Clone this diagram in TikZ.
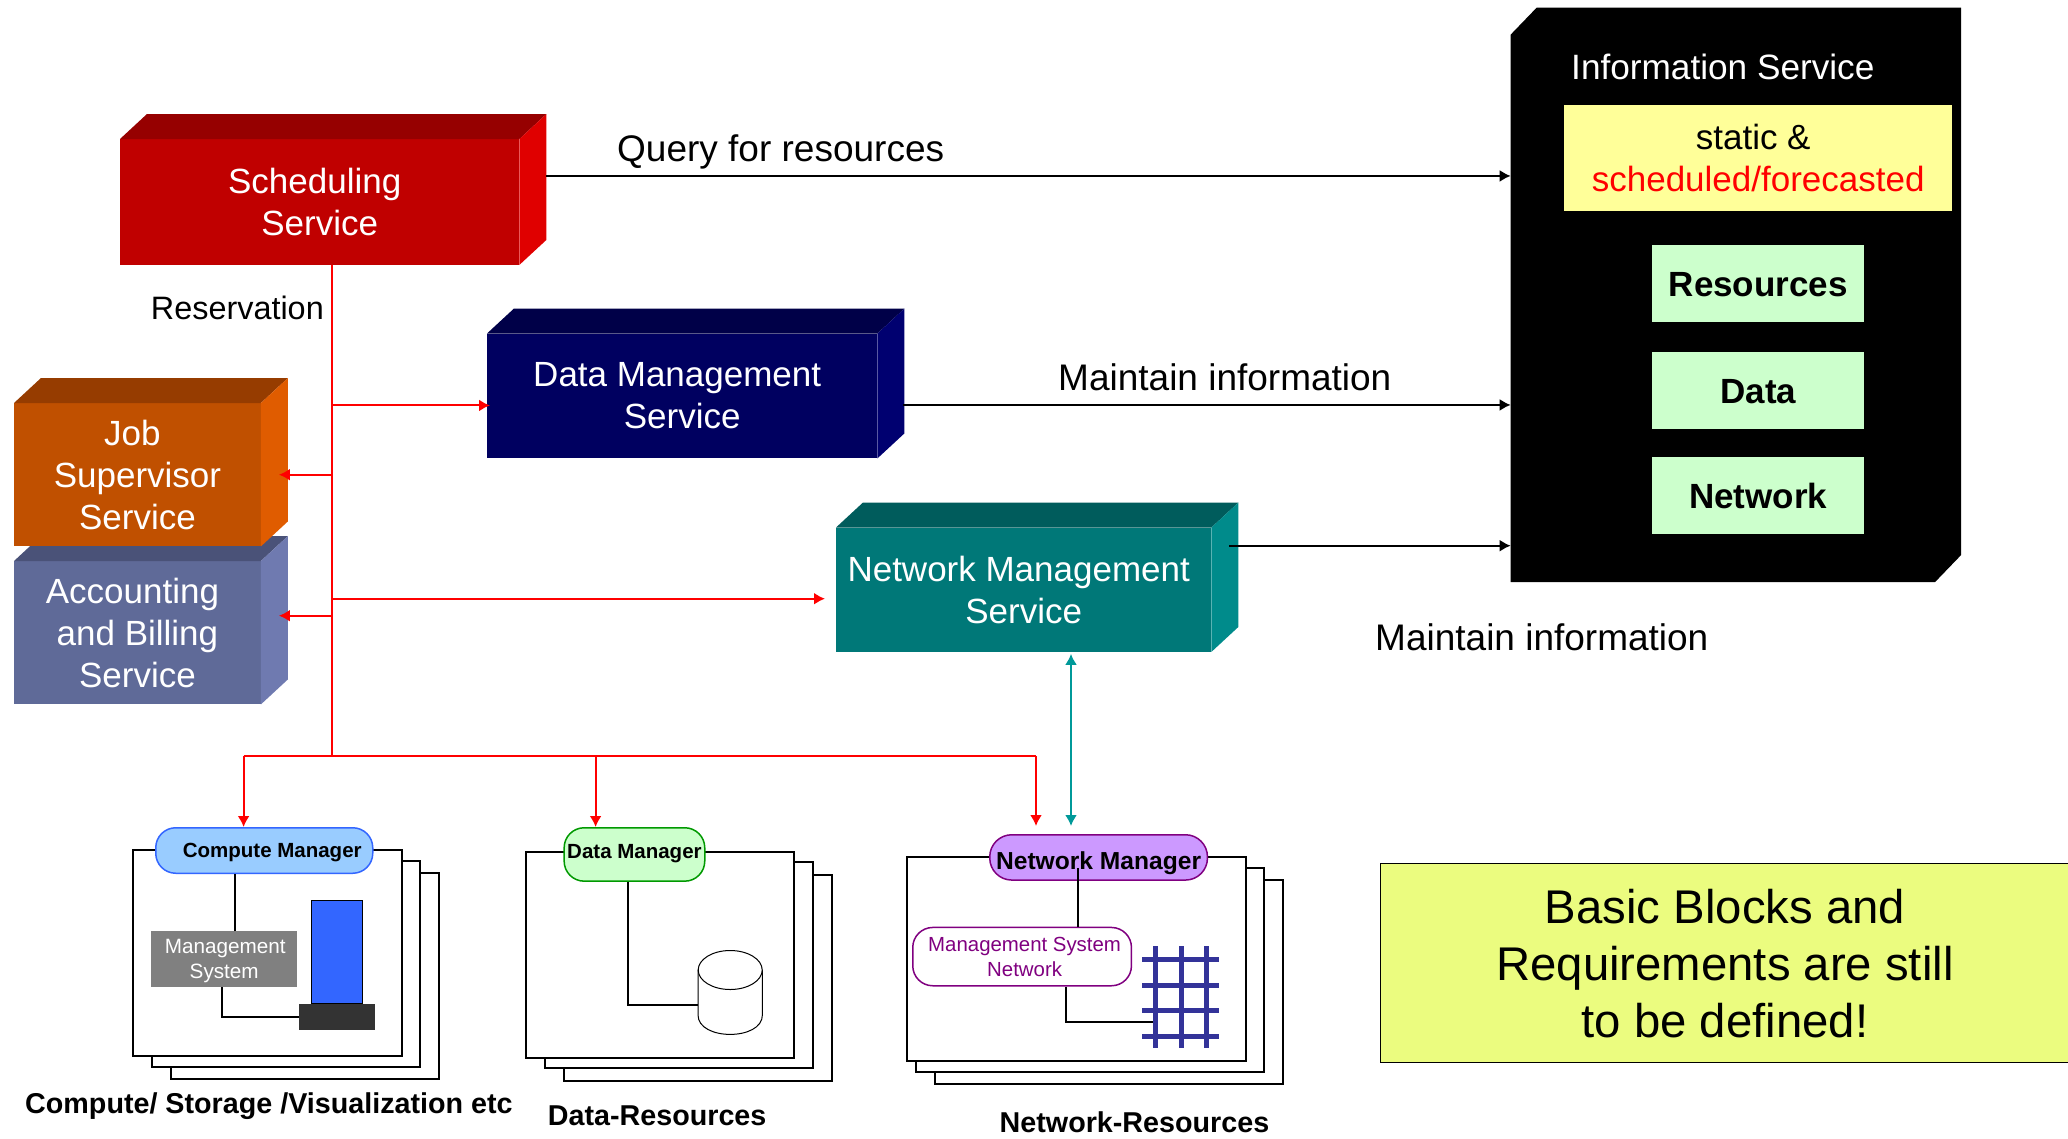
\documentclass[tikz,border=0pt]{standalone}
\usepackage{fontspec}
\setmainfont{Liberation Sans}
\usetikzlibrary{arrows.meta,positioning,calc}
\usetikzlibrary{shapes.geometric}
\definecolor{schedfront}{HTML}{C00000}
\definecolor{schedtop}{HTML}{960000}
\definecolor{schedside}{HTML}{E00000}
\definecolor{datafront}{HTML}{000060}
\definecolor{datatop}{HTML}{000048}
\definecolor{dataside}{HTML}{000070}
\definecolor{jobfront}{HTML}{C05000}
\definecolor{jobtop}{HTML}{963C00}
\definecolor{jobside}{HTML}{E05C00}
\definecolor{acctfront}{HTML}{5F6A98}
\definecolor{accttop}{HTML}{4A5278}
\definecolor{acctside}{HTML}{6F7AB0}
\definecolor{netfront}{HTML}{007878}
\definecolor{nettop}{HTML}{005C5C}
\definecolor{netside}{HTML}{008B8B}
\definecolor{teal}{HTML}{009999}
\definecolor{palegreen}{HTML}{CCFFCC}
\definecolor{paleyellow}{HTML}{FFFF99}
\definecolor{noteyellow}{HTML}{EBFC7F}
\definecolor{compfill}{HTML}{99CCFF}
\definecolor{compblue}{HTML}{3366FF}
\definecolor{netfill}{HTML}{CC99FF}
\definecolor{netpurple}{HTML}{800080}
\definecolor{gridblue}{HTML}{333399}
% top and side face of a block
\newcommand{\sidefaces}[3]{
  \fill[#2] (#1.north west) -- ++(27,-25) -- ++($(#1.north east)-(#1.north west)$) -- (#1.north east) -- cycle;
  \fill[#3] (#1.north east) -- ++(27,-25) -- ++($(#1.south east)-(#1.north east)$) -- (#1.south east) -- cycle;
}
\newcommand{\gap}{\hspace*{10pt}}
\tikzset{
block/.style={
  rectangle, align=center, text=white, inner sep=0pt, text depth=-6pt,
  font=\fontsize{35}{42}\selectfont
  },
green/.style={
  rectangle, fill=palegreen, inner sep=0pt, text=black,
  minimum width=212pt, minimum height=77pt, text height=26pt, text depth=0pt,
  font=\fontsize{35}{42}\selectfont\bfseries
  },
label/.style={
  inner sep=0pt, font=\fontsize{37}{42}\selectfont
  },
caption/.style={
  inner sep=0pt, font=\fontsize{28.7}{34}\selectfont\bfseries
  },
page/.style={
  draw=black, fill=white, line width=2pt, rectangle, inner sep=0pt
  },
manager/.style={
  rectangle, rounded corners=#1, inner sep=0pt, line width=1.5pt,
  font=\fontsize{20.5}{25}\selectfont\bfseries
  },
wire/.style={draw=black, line width=2pt},
redline/.style={draw=red, line width=2pt},
gridline/.style={draw=gridblue, line width=5pt}
}

\begin{document}
\begin{tikzpicture}[x=1pt,y=-1pt,>={Latex[length=11pt,width=12pt]}]
\useasboundingbox (0,0) rectangle (2068,1138);

% services

\node[block,fill=schedfront,minimum width=399pt,minimum height=125.5pt,anchor=north west]
at (120,139) (sched) {Scheduling\gap\\Service};
\sidefaces{sched}{schedtop}{schedside}

\node[block,fill=datafront,minimum width=390pt,minimum height=124.5pt,anchor=north west]
at (487,333.5) (dms) {Data Management\gap\\Service};
\sidefaces{dms}{datatop}{dataside}

\node[block,fill=acctfront,minimum width=246.5pt,minimum height=143pt,anchor=north west]
at (14,561) (acct) {Accounting\gap\\and Billing\gap\\Service};
\sidefaces{acct}{accttop}{acctside}

\node[block,fill=jobfront,minimum width=246.5pt,minimum height=143pt,anchor=north west]
at (14,403) (job) {Job\gap\\Supervisor\\Service};
\sidefaces{job}{jobtop}{jobside}

\node[block,fill=netfront,minimum width=375pt,minimum height=124pt,anchor=north west]
at (836,527.5) (nms) {Network Management\gap\\Service};
\sidefaces{nms}{nettop}{netside}

% information service

\node[rectangle,inner sep=0pt,minimum width=450pt,minimum height=574pt,anchor=north west]
at (1510.7,7.6) (info) {};
\fill[black] ([yshift=-27pt]info.north west) -- ([xshift=26pt]info.north west)
  -- (info.north east) -- ([yshift=27pt]info.south east)
  -- ([xshift=-26pt]info.south east) -- (info.south west) -- cycle;
\node[label,text=white,font=\fontsize{35.2}{42}\selectfont,anchor=west] at (1571,67) (infotitle) {Information Service};
\node[rectangle,fill=paleyellow,align=center,inner sep=0pt,minimum width=388pt,minimum height=105.5pt,
  font=\fontsize{35}{42}\selectfont,text depth=-3pt,anchor=north west]
at (1564,105) (forecast) {static \&\gap\\\textcolor{red}{scheduled/forecasted}};
\node[green,anchor=north west] at (1652,245) (res) {Resources};
\node[green,below=29pt of res] (dat) {Data};
\node[green,below=28pt of dat] (net) {Network};

% arrows to information service

\node[label,anchor=west] at (617,152) (query) {Query for resources};
\node[label,anchor=west] at (1058,377) (maintain1) {Maintain information};
\node[label,anchor=west] at (1375,637) (maintain2) {Maintain information};
\coordinate (queryout) at ([shift={(27pt,26pt)}]sched.east);
\coordinate (dataout) at ([shift={(26pt,-9pt)}]dms.east);
\coordinate (netout) at ([shift={(18pt,44pt)}]nms.east);
\draw[wire,->] (queryout) -- (queryout -| info.west);
\draw[wire,->] (dataout) -- (dataout -| info.west);
\draw[wire,->] (netout) -- (netout -| info.west);

% reservation

\node[label,font=\fontsize{32.4}{40}\selectfont,anchor=east] at (324,308) (reserve) {Reservation};
\coordinate (bus) at (332,756);
\coordinate (busleft) at (243.6,756);
\coordinate (busright) at (1036,756);
\draw[redline] (sched.south -| bus) -- (bus);
\draw[redline] (busleft) -- (busright);
\draw[redline,->] ([yshift=-9.5pt]dms.west -| bus) -- ([shift={(3pt,-9.5pt)}]dms.west);
\draw[redline,->] (job.east -| bus) -- ([xshift=18pt]job.east);
\draw[redline,->] ([yshift=17pt]acct.east -| bus) -- ([shift={(18pt,17pt)}]acct.east);
\draw[redline,->] ([yshift=-9pt]nms.west -| bus) -- ([shift={(-11pt,-9pt)}]nms.west);

% compute

\node[page,minimum width=268pt,minimum height=206pt,anchor=north west] at (170,872) (comp3) {};
\node[page,minimum width=268pt,minimum height=206pt,anchor=north west] at (151,859.6) (comp2) {};
\node[page,minimum width=268.5pt,minimum height=206pt,anchor=north west] at (132,848.8) (comp1) {};
\node[manager=20pt,draw=compblue,fill=compfill,minimum width=217pt,minimum height=45.5pt,
  anchor=north west,text depth=0pt] at (155,827) (compman) {\hspace*{16pt}Compute Manager};
\node[rectangle,fill=gray,text=white,align=center,inner sep=0pt,minimum width=146pt,minimum height=56pt,
  font=\fontsize{20.7}{25}\selectfont,text depth=-2pt,anchor=north west]
at (151,931) (compsys) {\hspace*{2pt}Management\\System};
\node[rectangle,fill=compblue,draw=black,line width=1pt,minimum width=51pt,minimum height=103pt,
  inner sep=0pt,anchor=north west] at (311,900) (tower) {};
\node[rectangle,fill=black!80,minimum width=76.5pt,minimum height=25.7pt,inner sep=0pt,
  below=0pt of tower] (towerbase) {};
\draw[wire] (compsys.north -| 235,0) -- (compman.south -| 235,0);
\draw[wire] (compsys.south -| 221.7,0) |- (towerbase.west);
\node[caption,anchor=west] at (25,1106) (compcap) {Compute/ Storage /Visualization etc};

% data

\node[page,minimum width=268pt,minimum height=206pt,anchor=north west] at (563.4,874) (data3) {};
\node[page,minimum width=268pt,minimum height=206pt,anchor=north west] at (544.3,861) (data2) {};
\node[page,minimum width=268pt,minimum height=206pt,anchor=north west] at (525,851) (data1) {};
\node[manager=20pt,draw=green!60!black,fill=palegreen,minimum width=140.6pt,minimum height=53.4pt,
  text height=9pt,text depth=0pt,anchor=north west] at (563.4,827) (dataman) {Data Manager};
\node[rectangle,inner sep=0pt,minimum width=64pt,minimum height=84pt,anchor=north west]
at (698,950) (disk) {};
\draw[draw=black,line width=1pt,fill=white] ([yshift=-19.5pt]disk.north west) -- ([yshift=19.5pt]disk.south west)
  .. controls ([yshift=-6.5pt]disk.south west) and ([yshift=-6.5pt]disk.south east) .. ([yshift=19.5pt]disk.south east)
  -- ([yshift=-19.5pt]disk.north east);
\node[ellipse,draw=black,line width=1pt,fill=white,inner sep=0pt,minimum width=64pt,minimum height=39pt,
  below=0pt of disk.north] (disktop) {};
\draw[wire] (dataman.south -| 628,0) |- (disk.west |- 0,1005);
\node[caption,anchor=west] at (547.7,1116) (datacap) {Data-Resources};

% network

\node[page,minimum width=348pt,minimum height=204pt,anchor=north west] at (934,879.3) (netp3) {};
\node[page,minimum width=348pt,minimum height=204pt,anchor=north west] at (915.2,866.7) (netp2) {};
\node[page,minimum width=339pt,minimum height=204pt,anchor=north west] at (905.5,856) (netp1) {};
\node[manager=22pt,draw=netpurple,fill=netfill,minimum width=217.7pt,minimum height=45.3pt,
  font=\fontsize{24.6}{30}\selectfont\bfseries,text height=24.6pt,text depth=0pt,anchor=north west]
at (989,834) (netman) {Network Manager};
\node[rectangle,rounded corners=20pt,draw=netpurple,line width=1.5pt,fill=white,text=netpurple,align=center,
  inner sep=0pt,minimum width=218.7pt,minimum height=58.3pt,font=\fontsize{20.4}{25}\selectfont,text depth=-2pt,anchor=north west]
at (912,926.7) (netsys) {\hspace*{5pt}Management System\\\hspace*{5pt}Network};
\draw[wire] (netsys.north -| 1078,0) -- (1078,868);
\foreach \x in {1155,1181,1206.7} \draw[gridline] (\x,946) -- (\x,1048);
\foreach \y in {959,985,1010,1036} \draw[gridline] (1142,\y) -- (1218.7,\y);
\coordinate (gridin) at (1153,1021.7);
\draw[wire] (netsys.south -| 1065.7,0) |- (gridin);
\node[caption,anchor=west] at (999.5,1122.5) (netcap) {Network-Resources};

% into the managers

\draw[redline,->] (busleft) -- (busleft |- compman.north);
\draw[redline,->] (dataman.north -| 595.6,756) ++(0,-71) -- (dataman.north -| 595.6,756);
\draw[redline,->] (busright) -- ($(busright |- netman.north)+(0,-8)$);
\coordinate (tealend) at ($(1071,0 |- netman.north)+(0,-8)$);
\draw[draw=teal,line width=2pt,<->] (nms.south -| 1071,0) ++(0,2) -- (tealend);

% note

\node[rectangle,draw=black,line width=1pt,fill=noteyellow,align=center,inner sep=0pt,
  minimum width=700pt,minimum height=199.4pt,anchor=north west] at (1380,862.6) (notebox) {};
\node[align=center,inner sep=0pt,font=\fontsize{47.3}{57}\selectfont] at (1725,964) (note)
{Basic Blocks and\\Requirements are still\\to be defined!};
\end{tikzpicture}
\end{document}
